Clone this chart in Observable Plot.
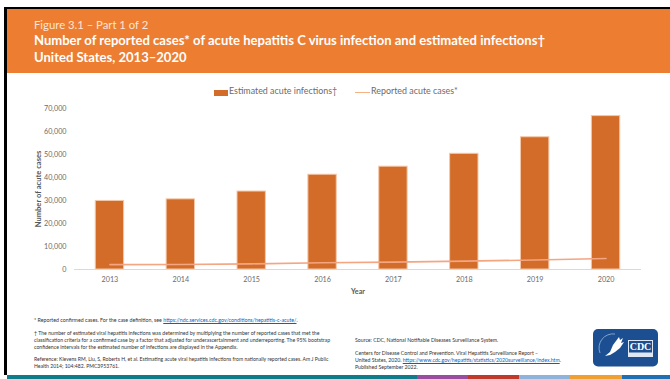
<!DOCTYPE html>
<html>
<head>
<meta charset="utf-8">
<script src="https://cdn.jsdelivr.net/npm/d3@7"></script>
<script src="https://cdn.jsdelivr.net/npm/@observablehq/plot@0.6"></script>
<style>
  html, body { margin: 0; padding: 0; background: #fff; }
  body { width: 670px; height: 379px; position: relative; overflow: hidden; font-family: Lato, sans-serif; }
  .abs { position: absolute; }
  #frameTop { left: 4px; top: 7px; width: 666px; height: 2px; background: #000; }
  #frameLeft { left: 4px; top: 7px; width: 3px; height: 368px; background: #000; }
  #header { left: 7px; top: 9px; width: 663px; height: 64px; background: #ed7d31; color: #fff; }
  #fig { left: 27px; top: 9px; font-size: 11.3px; line-height: 14px; color: #fbe5d6; white-space: nowrap; }
  #title { left: 27px; top: 23px; font-size: 13.05px; line-height: 17px; font-weight: 700; white-space: nowrap; }
  #chart { left: 0; top: 80px; }
  .legend { top: 85px; font-size: 8.9px; line-height: 12px; color: #6b6b6b; white-space: nowrap; }
  .note { font-size: 5.2px; line-height: 7.2px; color: #333; white-space: nowrap; }
  .note a { color: #0563c1; text-decoration: underline; }
  #strip { left: 7px; top: 375px; width: 663px; height: 4px; display: flex; }
  #strip div { height: 4px; }
</style>
</head>
<body>
<div class="abs" id="frameTop"></div>
<div class="abs" id="frameLeft"></div>
<div class="abs" id="header">
  <div class="abs" id="fig">Figure 3.1 – Part 1 of 2</div>
  <div class="abs" id="title">Number of reported cases* of acute hepatitis C virus infection and estimated infections†<br>United States, 2013–2020</div>
</div>

<div class="abs" style="left:214px;top:90px;width:14px;height:6px;background:#d26c28"></div>
<div class="abs legend" style="left:229px">Estimated acute infections†</div>
<div class="abs" style="left:355px;top:92px;width:15px;height:1px;background:#f4b183"></div>
<div class="abs legend" style="left:371px">Reported acute cases*</div>

<div class="abs" id="chart"></div>

<div class="abs note" style="left:34px;top:317px;font-size:5.28px">* Reported confirmed cases. For the case definition, see <a>https://ndc.services.cdc.gov/conditions/hepatitis-c-acute/</a>.</div>
<div class="abs note" style="left:34px;top:330px">† The number of estimated viral hepatitis infections was determined by multiplying the number of reported cases that met the<br>classification criteria for a confirmed case by a factor that adjusted for underascertainment and underreporting. The 95% bootstrap<br>confidence intervals for the estimated number of infections are displayed in the Appendix.</div>
<div class="abs note" style="left:34px;top:355.5px;font-size:5.1px">Reference: Klevens RM, Liu, S, Roberts H, et al. Estimating acute viral hepatitis infections from nationally reported cases. Am J Public<br>Health 2014; 104:482. PMC3953761.</div>
<div class="abs note" style="left:355px;top:337px">Source: CDC, National Notifiable Diseases Surveillance System.</div>
<div class="abs note" style="left:355px;top:350px">Centers for Disease Control and Prevention. Viral Hepatitis Surveillance Report –<br>United States, 2020. <a>https://www.cdc.gov/hepatitis/statistics/2020surveillance/index.htm</a>.<br>Published September 2022.</div>

<svg class="abs" style="left:593px;top:329px" width="65" height="38" viewBox="0 0 65 38">
  <rect width="65" height="37.5" rx="5" fill="#1b4f91"/>
  <path d="M7 24 A14 14 0 0 1 22 5" fill="none" stroke="#9db8d8" stroke-width="0.8"/>
  <path d="M12 27 L17 23 L20 16 L26 8 L27 11 L30 9 L28 14 L31 13 L27 19 L22 23 L17 26 Z" fill="#fff"/>
  <rect x="35" y="11" width="25" height="17" fill="#dfe7f2"/>
  <rect x="36" y="12" width="23" height="11.5" fill="#1b4f91"/>
  <text x="47.5" y="21.4" text-anchor="middle" font-family="'Liberation Serif', serif" font-weight="700" font-size="10" fill="#fff">CDC</text>
</svg>

<div class="abs" id="strip"></div>

<script>
// Acute hepatitis C, United States: estimated infections and reported cases by year
const years = [2013, 2014, 2015, 2016, 2017, 2018, 2019, 2020];
const estimatedInfections = [29800, 30500, 33900, 41200, 44700, 50300, 57500, 66700];
const reportedCases = [2138, 2194, 2436, 2967, 3216, 3621, 4136, 4798];
const yTicks = [0, 10000, 20000, 30000, 40000, 50000, 60000, 70000];

const table = years.map((year, i) => ({
  year,
  estimated: estimatedInfections[i],
  reported: reportedCases[i]
}));

const chart = Plot.plot({
  width: 670,
  height: 225,
  marginTop: 28,
  marginBottom: 36,
  marginLeft: 74,
  marginRight: 29,
  style: { fontFamily: "Lato, sans-serif", background: "transparent" },
  x: { type: "band", domain: years, round: false, paddingInner: 0.6, paddingOuter: 0.3, label: null },
  y: { domain: [0, 70000], label: null },
  marks: [
    Plot.barY(table, {
      x: "year",
      y: "estimated",
      fill: "#d26c28",
      stroke: "#f4c7a9",
      strokeWidth: 1
    }),
    Plot.ruleY([0], { stroke: "#d9d9d9", strokeWidth: 1 }),
    Plot.lineY(table, {
      x: "year",
      y: "reported",
      stroke: "#f4a582",
      strokeWidth: 1.6,
      curve: "linear"
    }),
    Plot.axisY({
      ticks: yTicks,
      tickFormat: d3.format(","),
      tickSize: 0,
      tickPadding: 8,
      marginLeft: 74,
      label: null,
      fontSize: 7.2,
      color: "#6b6b6b"
    }),
    Plot.axisX({
      tickFormat: String,
      tickSize: 0,
      tickPadding: 7,
      label: null,
      fontSize: 7.2,
      color: "#6b6b6b"
    }),
    Plot.text(["Number of acute cases"], {
      frameAnchor: "left",
      textAnchor: "middle",
      rotate: -90,
      dx: -36,
      fontSize: 7.6,
      fontWeight: 700,
      fill: "#595959"
    }),
    Plot.text(["Year"], {
      frameAnchor: "bottom",
      dy: 24,
      fontSize: 7.2,
      fontWeight: 700,
      fill: "#595959"
    })
  ]
});
document.getElementById("chart").append(chart);

// Multicolour ribbon along the bottom edge
const ribbonColors = ["#0f7c8a", "#9a4c9e", "#c0392b", "#8fb4dc", "#f0a030", "#1f6fb5"];
const ribbonWidths = [410, 51, 51, 51, 52, 48];
const strip = document.getElementById("strip");
ribbonColors.forEach((c, i) => {
  const seg = document.createElement("div");
  seg.style.background = c;
  seg.style.width = ribbonWidths[i] + "px";
  strip.append(seg);
});
</script>
</body>
</html>
